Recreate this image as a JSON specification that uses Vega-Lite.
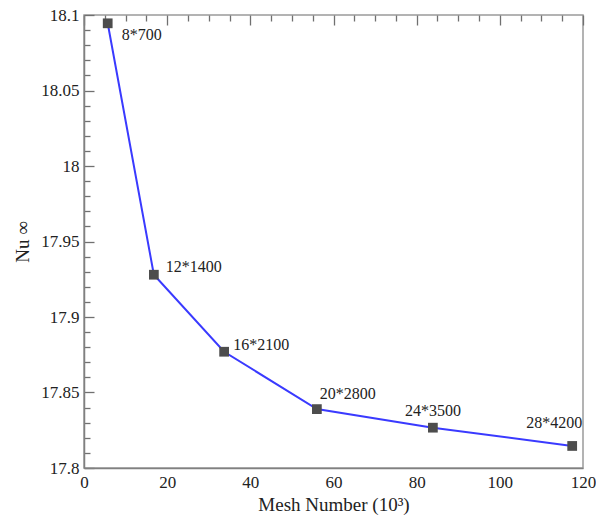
{
  "$schema": "https://vega.github.io/schema/vega-lite/v6.json",
  "width": 499,
  "height": 453,
  "autosize": {"type": "none"},
  "padding": {"left": 84, "top": 15, "right": 13, "bottom": 53},
  "background": "white",
  "config": {
    "view": {"stroke": "#9a9a9a", "strokeWidth": 1.5},
    "font": "Liberation Serif",
    "axis": {
      "grid": true,
      "ticks": false,
      "gridColor": "#707070",
      "gridWidth": 1.3,
      "gridOpacity": 1,
      "domainColor": "#808080",
      "domainWidth": 1.5,
      "labelFont": "Liberation Serif",
      "labelFontSize": 17,
      "labelColor": "#222222",
      "titleFont": "Liberation Serif",
      "titleFontSize": 19,
      "titleFontWeight": "normal",
      "titleColor": "#222222"
    }
  },
  "data": {
    "values": [
      {"mesh": 5.7, "nu": 18.0945, "label": "8*700"},
      {"mesh": 16.8, "nu": 17.928, "label": "12*1400"},
      {"mesh": 33.7, "nu": 17.877, "label": "16*2100"},
      {"mesh": 56.0, "nu": 17.839, "label": "20*2800"},
      {"mesh": 83.9, "nu": 17.8267, "label": "24*3500"},
      {"mesh": 117.4, "nu": 17.8146, "label": "28*4200"}
    ]
  },
  "encoding": {
    "x": {"field": "mesh", "type": "quantitative", "scale": {"domain": [0, 120], "nice": false},
      "axis": {"orient": "bottom",
        "values": [0, 5, 10, 15, 20, 25, 30, 35, 40, 45, 50, 55, 60, 65, 70, 75, 80, 85, 90, 95, 100, 105, 110, 115, 120],
        "labelExpr": "datum.value % 20 === 0 ? datum.label : ''",
        "gridDash": {"condition": {"test": "datum.value % 20 === 0", "value": [10, 2000]}, "value": [6, 2000]},
        "labelPadding": 6, "labelFlush": false, "labelOverlap": false,
        "title": "Mesh Number (10³)", "titlePadding": 5}},
    "y": {"field": "nu", "type": "quantitative", "scale": {"domain": [17.8, 18.1], "nice": false, "zero": false},
      "axis": {"orient": "left",
        "values": [17.8, 17.81, 17.82, 17.83, 17.84, 17.85, 17.86, 17.87, 17.88, 17.89, 17.9, 17.91, 17.92, 17.93, 17.94, 17.95, 17.96, 17.97, 17.98, 17.99, 18, 18.01, 18.02, 18.03, 18.04, 18.05, 18.06, 18.07, 18.08, 18.09, 18.1],
        "format": "~g",
        "labelExpr": "abs(datum.value * 100 - round(datum.value * 20) * 5) < 0.01 ? datum.label : ''",
        "gridDash": {"condition": {"test": "abs(datum.value * 100 - round(datum.value * 20) * 5) < 0.01", "value": [10, 2000]}, "value": [6, 2000]},
        "labelPadding": 5, "labelFlush": false, "labelOverlap": false,
        "title": "Nu ∞", "titlePadding": 8}}
  },
  "layer": [
    {
      "mark": {"type": "line", "color": "#3a3aff", "strokeWidth": 2}
    },
    {
      "mark": {"type": "point", "shape": "square", "filled": true, "color": "#4d4d4d", "opacity": 1, "size": 95}
    },
    {
      "transform": [{"filter": "datum.label == '8*700'"}],
      "mark": {"type": "text", "align": "left", "baseline": "middle", "dx": 14, "dy": 12, "fontSize": 16, "color": "#222222"},
      "encoding": {"text": {"field": "label"}}
    },
    {
      "transform": [{"filter": "datum.label == '12*1400'"}],
      "mark": {"type": "text", "align": "left", "baseline": "middle", "dx": 12, "dy": -8, "fontSize": 16, "color": "#222222"},
      "encoding": {"text": {"field": "label"}}
    },
    {
      "transform": [{"filter": "datum.label == '16*2100'"}],
      "mark": {"type": "text", "align": "left", "baseline": "middle", "dx": 9, "dy": -7, "fontSize": 16, "color": "#222222"},
      "encoding": {"text": {"field": "label"}}
    },
    {
      "transform": [{"filter": "datum.label == '20*2800'"}],
      "mark": {"type": "text", "align": "left", "baseline": "middle", "dx": 3, "dy": -15, "fontSize": 16, "color": "#222222"},
      "encoding": {"text": {"field": "label"}}
    },
    {
      "transform": [{"filter": "datum.label == '24*3500'"}],
      "mark": {"type": "text", "align": "center", "baseline": "middle", "dx": 0, "dy": -17, "fontSize": 16, "color": "#222222"},
      "encoding": {"text": {"field": "label"}}
    },
    {
      "transform": [{"filter": "datum.label == '28*4200'"}],
      "mark": {"type": "text", "align": "right", "baseline": "middle", "dx": 10, "dy": -23, "fontSize": 16, "color": "#222222"},
      "encoding": {"text": {"field": "label"}}
    }
  ]
}
